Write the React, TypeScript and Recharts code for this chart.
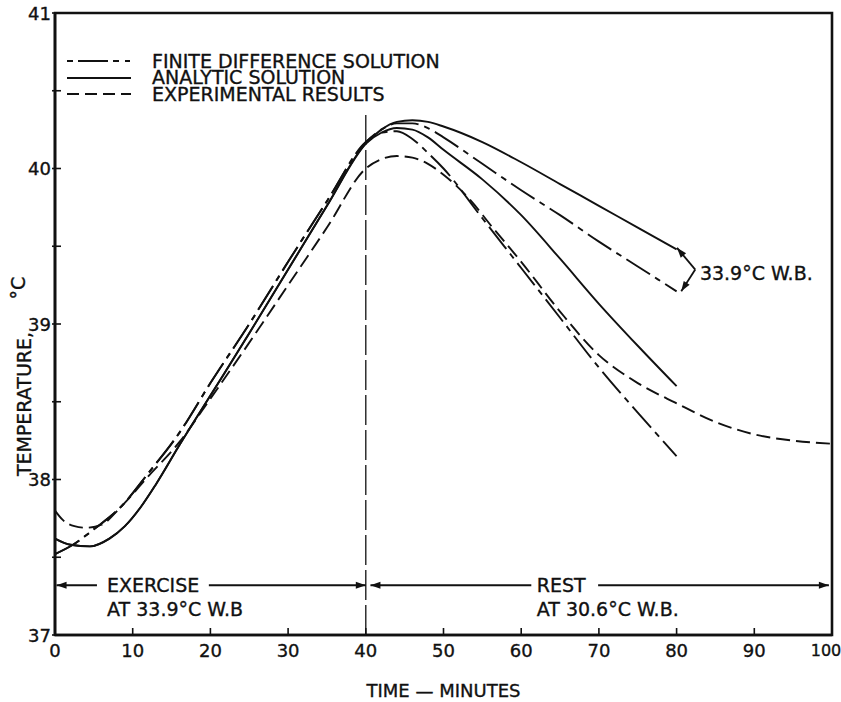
import React from 'react';
import {
  LineChart,
  Line,
  XAxis,
  YAxis,
  ReferenceLine,
  ReferenceArea,
  ReferenceDot,
  Legend,
} from 'recharts';

// ---------------- data ----------------
type Pt = [number, number];

const xTicks = [0, 10, 20, 30, 40, 50, 60, 70, 80, 90, 100];
const yTicks = [37, 37.5, 38, 38.5, 39, 39.5, 40, 40.5, 41];

// exercise phase (0-40 min)
const exerciseFD: Pt[] = [
  [0, 37.52], [2.3, 37.58], [5, 37.68], [8.4, 37.82], [12, 38.04], [16, 38.3],
  [20, 38.62], [25, 39.0], [30, 39.4], [35, 39.79], [40, 40.17],
];
const exerciseAN: Pt[] = [
  [0, 37.62], [2, 37.58], [4.5, 37.57], [7, 37.62], [9, 37.7], [11, 37.82],
  [13, 37.97], [16, 38.22], [20, 38.54], [25, 38.94], [30, 39.35], [35, 39.76], [40, 40.16],
];
// rest phase, 33.9 C W.B.
const restFD339: Pt[] = [
  [42, 40.25], [44, 40.29], [46, 40.29], [48, 40.26], [50, 40.2], [55, 40.03],
  [60, 39.86], [65, 39.7], [70, 39.53], [75, 39.37], [80, 39.21],
];
const restAN339: Pt[] = [
  [42, 40.25], [44, 40.3], [46, 40.31], [48, 40.3], [50, 40.27], [55, 40.17],
  [60, 40.04], [65, 39.9], [70, 39.76], [75, 39.62], [80, 39.48],
];
// rest phase, 30.6 C W.B.
const restFD306: Pt[] = [
  [42, 40.23], [44, 40.24], [46, 40.19], [48, 40.1], [50, 40.0], [55, 39.68],
  [60, 39.36], [65, 39.04], [70, 38.72], [75, 38.43], [80, 38.15],
];
const restAN306: Pt[] = [
  [42, 40.23], [44, 40.26], [46, 40.25], [48, 40.2], [50, 40.12], [55, 39.93],
  [60, 39.7], [65, 39.42], [70, 39.13], [75, 38.86], [80, 38.6],
];
// experimental results (0-100 min)
const experimental: Pt[] = [
  [0, 37.8], [1, 37.74], [2.5, 37.7], [4, 37.69], [6, 37.71], [8.4, 37.82], [12, 38.02],
  [16, 38.24], [20, 38.52], [25, 38.88], [30, 39.25], [35, 39.62], [40, 40.0],
  [42, 40.06], [44, 40.08], [46, 40.07], [48, 40.03], [50, 39.96], [53.4, 39.8],
  [56, 39.64], [60, 39.4], [65, 39.08], [70, 38.8], [75, 38.62], [80, 38.49],
  [85, 38.37], [90, 38.29], [95, 38.25], [100, 38.23],
];

const legendItems = [
  { name: 'FINITE DIFFERENCE SOLUTION', dash: '6 5 30 5 6' },
  { name: 'ANALYTIC SOLUTION', dash: '' },
  { name: 'EXPERIMENTAL RESULTS', dash: '12 6' },
];

// phase arrows at the bottom: [t1, v1, t2, v2, arrowAtStart, arrowAtEnd]
const phaseY = 37.32;
const arrows: [number, number, number, number, boolean, boolean][] = [
  [0.2, phaseY, 5.4, phaseY, true, false],
  [19.8, phaseY, 40, phaseY, false, true],
  [40.6, phaseY, 61.3, phaseY, true, false],
  [69.9, phaseY, 99.6, phaseY, false, true],
  [82.4, 39.35, 80.05, 39.49, false, true],
  [82.4, 39.35, 80.6, 39.21, false, true],
];

const notes: { t: number; v: number; text: string }[] = [
  { t: 6.7, v: phaseY, text: 'EXERCISE' },
  { t: 6.7, v: 37.165, text: 'AT 33.9°C W.B' },
  { t: 62, v: phaseY, text: 'REST' },
  { t: 62, v: 37.165, text: 'AT 30.6°C W.B.' },
  { t: 83, v: 39.33, text: '33.9°C W.B.' },
];

// ---------------- helpers ----------------
const FONT = '"DejaVu Sans", "Liberation Sans", sans-serif';
const INK = '#111';
const FD_DASH = '28 6 6 6';
const EXP_DASH = '14 6';

const rows = (pts: Pt[]) => pts.map(([t, v]) => ({ t, v }));
const fd339 = rows([...exerciseFD, ...restFD339]);
const fd306 = rows([...exerciseFD, ...restFD306]);
const an339 = rows([...exerciseAN, ...restAN339]);
const an306 = rows([...exerciseAN, ...restAN306]);
const expRows = rows(experimental);

const textStyle = { fontFamily: FONT, fill: INK, stroke: INK, strokeWidth: 0.35 };

const YTick = (props: any) => {
  const { x, y, payload } = props;
  const v = payload.value as number;
  const isInt = Number.isInteger(v);
  return (
    <g>
      <line x1={x - 3} x2={x + 6} y1={y} y2={y} stroke={INK} strokeWidth={1.6} />
      {isInt && (
        <text x={x - 4} y={y} textAnchor="end" dominantBaseline="central" fontSize={18} {...textStyle}>
          {v}
        </text>
      )}
    </g>
  );
};

const XTick = (props: any) => {
  const { x, y, payload } = props;
  const v = payload.value as number;
  const inner = v !== 0 && v !== 100;
  const last = v === 100;
  return (
    <g>
      {inner && <line x1={x} x2={x} y1={y} y2={y - 7} stroke={INK} strokeWidth={1.6} />}
      <text x={last ? x - 6 : x} y={y + 15} textAnchor="middle" dominantBaseline="central"
        fontSize={last ? 16 : 18} {...textStyle}>
        {v}
      </text>
    </g>
  );
};

const arrowShape = (startArrow: boolean, endArrow: boolean) => (p: any) => {
  const { x1, y1, x2, y2 } = p;
  const a = Math.atan2(y2 - y1, x2 - x1);
  const head = (x: number, y: number, ang: number) => {
    const L = 10;
    const W = 3.5;
    const bx = x - L * Math.cos(ang);
    const by = y - L * Math.sin(ang);
    return `${x},${y} ${bx + W * Math.sin(ang)},${by - W * Math.cos(ang)} ${bx - W * Math.sin(ang)},${by + W * Math.cos(ang)}`;
  };
  return (
    <g>
      <line x1={x1} y1={y1} x2={x2} y2={y2} stroke={INK} strokeWidth={1.8} />
      {startArrow && <polygon points={head(x1, y1, a + Math.PI)} fill={INK} />}
      {endArrow && <polygon points={head(x2, y2, a)} fill={INK} />}
    </g>
  );
};

const noteShape = (text: string) => (p: any) => (
  <text x={p.cx} y={p.cy} dominantBaseline="central" fontSize={19} {...textStyle}>
    {text}
  </text>
);

const YTitle = () => (
  <g>
    <text transform="translate(24,404) rotate(-90)" textAnchor="middle" dominantBaseline="central"
      fontSize={19} {...textStyle}>
      TEMPERATURE,
    </text>
    <text transform="translate(18,288) rotate(-90)" textAnchor="middle" dominantBaseline="central"
      fontSize={19} {...textStyle}>
      °C
    </text>
  </g>
);

const LegendBox = () => (
  <div style={{ fontFamily: FONT, fontSize: 19, color: INK, lineHeight: '16.4px',
    WebkitTextStroke: '0.35px #111' } as any}>
    {legendItems.map((it) => (
      <div key={it.name} style={{ display: 'flex', alignItems: 'center', height: 16.4 }}>
        <svg width={64} height={10} style={{ marginRight: 21, flex: 'none' }}>
          <line x1={0} x2={64} y1={5} y2={5} stroke={INK} strokeWidth={2}
            strokeDasharray={it.dash || undefined} />
        </svg>
        <span style={{ whiteSpace: 'nowrap' }}>{it.name}</span>
      </div>
    ))}
  </div>
);

export default function App() {
  return (
    <div style={{ position: 'absolute', left: 0, top: 0, background: '#fff' }}>
      <LineChart width={841} height={702} margin={{ top: 13, right: 9, bottom: 0, left: 0 }}>
        <XAxis dataKey="t" type="number" domain={[0, 100]} ticks={xTicks} height={67}
          axisLine={{ stroke: INK, strokeWidth: 2.6 }} tickLine={false} tickSize={0} tickMargin={0}
          tick={<XTick />} interval={0}
          label={{ value: 'TIME — MINUTES', position: 'insideBottom', offset: 5,
            fontFamily: FONT, fontSize: 18, fill: INK, stroke: INK, strokeWidth: 0.35 }} />
        <YAxis type="number" domain={[37, 41]} ticks={yTicks} width={55}
          axisLine={{ stroke: INK, strokeWidth: 2.6 }} tickLine={false} tickSize={0} tickMargin={0}
          tick={<YTick />} interval={0} label={<YTitle />} />
        <ReferenceArea x1={0} x2={100} y1={37} y2={41} fill="none" stroke={INK} strokeWidth={2.6} />
        <ReferenceLine segment={[{ x: 40, y: 37 }, { x: 40, y: 40.36 }]} stroke={INK}
          strokeWidth={1.3} strokeDasharray="30 5" />
        {arrows.map(([t1, v1, t2, v2, s, e], i) => (
          <ReferenceLine key={`a${i}`} segment={[{ x: t1, y: v1 }, { x: t2, y: v2 }]}
            shape={arrowShape(s, e)} />
        ))}
        {notes.map((n) => (
          <ReferenceDot key={n.text} x={n.t} y={n.v} r={0} shape={noteShape(n.text)} />
        ))}
        <Line data={fd339} dataKey="v" type="monotone" stroke={INK} strokeWidth={1.9}
          strokeDasharray={FD_DASH} dot={false} isAnimationActive={false} />
        <Line data={fd306} dataKey="v" type="monotone" stroke={INK} strokeWidth={1.9}
          strokeDasharray={FD_DASH} dot={false} isAnimationActive={false} />
        <Line data={an339} dataKey="v" type="monotone" stroke={INK} strokeWidth={1.9}
          dot={false} isAnimationActive={false} />
        <Line data={an306} dataKey="v" type="monotone" stroke={INK} strokeWidth={1.9}
          dot={false} isAnimationActive={false} />
        <Line data={expRows} dataKey="v" type="monotone" stroke={INK} strokeWidth={1.9}
          strokeDasharray={EXP_DASH} dot={false} isAnimationActive={false} />
        <Legend layout="vertical" align="center" verticalAlign="middle" content={<LegendBox />}
          wrapperStyle={{ left: 67, top: 53, width: 440 }} />
      </LineChart>
    </div>
  );
}
